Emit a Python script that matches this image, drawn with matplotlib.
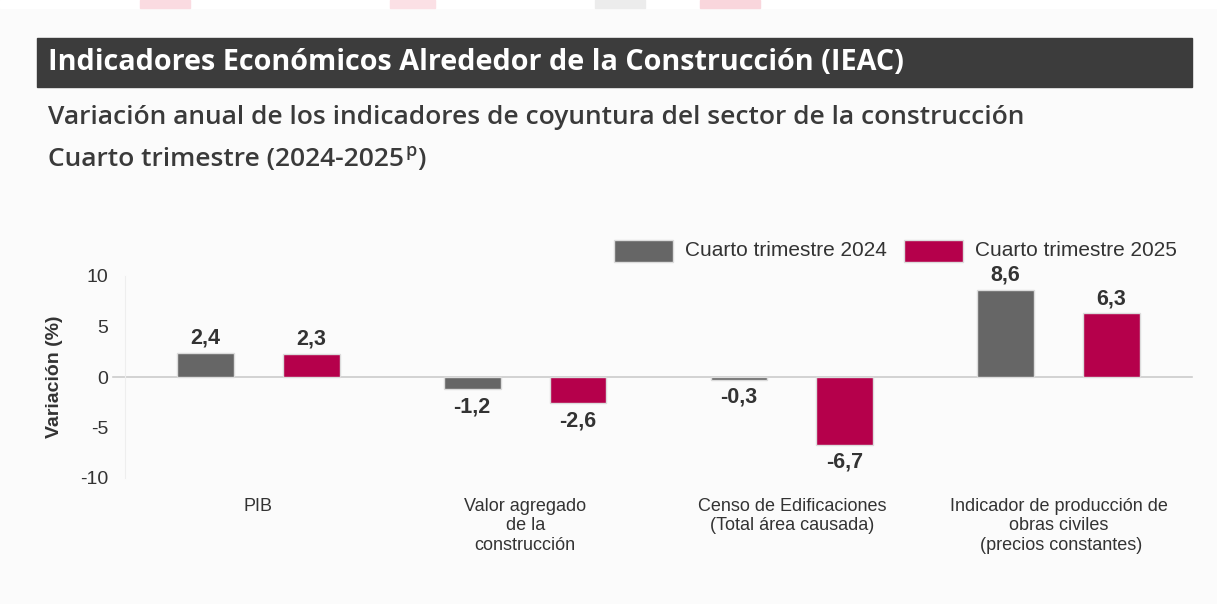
import matplotlib
matplotlib.use("Agg")
import matplotlib.pyplot as plt
from matplotlib.patches import Rectangle

W, H = 1217, 604

categorias = ["PIB", "Valor agregado\nde la\nconstrucción",
              "Censo de Edificaciones\n(Total área causada)",
              "Indicador de producción de\nobras civiles\n (precios constantes)"]
series = ["Cuarto trimestre 2024", "Cuarto trimestre 2025"]
valores_2024 = [2.4, -1.2, -0.3, 8.6]
valores_2025 = [2.3, -2.6, -6.7, 6.3]
yticks = [-10, -5, 0, 5, 10]

colores = ["#666666", "#b5004b"]
txt = "#333333"

fig = plt.figure(figsize=(W / 100, H / 100), dpi=100)
fig.patch.set_facecolor("#fbfbfb")

# franja blanca superior con restos de la imagen de cabecera
fig.patches.append(Rectangle((0, 1 - 8 / H), 1, 8 / H, transform=fig.transFigure,
                             color="white", zorder=0))
for x0, ww, c in [(140, 50, "#fadbe1"), (390, 45, "#fbe0e5"), (595, 50, "#ececec"),
                  (700, 60, "#f9d6dc")]:
    fig.patches.append(Rectangle((x0 / W, 1 - 8 / H), ww / W, 8 / H,
                                 transform=fig.transFigure, color=c, zorder=1))

# banda del titulo
fig.patches.append(Rectangle((37 / W, 1 - 87 / H), (1192 - 37) / W, 49 / H,
                             transform=fig.transFigure, color="#3c3c3c", zorder=1))
fig.text(48 / W, 1 - 63 / H, "Indicadores Económicos Alrededor de la Construcción (IEAC)",
         color="white", fontsize=20.7, fontweight="bold", family="Open Sans",
         va="center", ha="left")

fig.text(48 / W, 1 - 117 / H,
         "Variación anual de los indicadores de coyuntura del sector de la construcción",
         color="#3a3a3a", fontsize=19, fontweight="semibold", family="Open Sans",
         va="center", ha="left")
t1 = fig.text(48 / W, 1 - 160 / H, "Cuarto trimestre (2024-2025",
              color="#3a3a3a", fontsize=19, fontweight="semibold", family="Open Sans",
              va="center", ha="left")
r = fig.canvas.get_renderer()
bb = t1.get_window_extent(r)
t2 = fig.text(bb.x1 / W + 1 / W, 1 - 151 / H, "p", color="#3a3a3a", fontsize=13,
              fontweight="semibold", family="Open Sans", va="center", ha="left")
bb2 = t2.get_window_extent(r)
fig.text(bb2.x1 / W + 1 / W, 1 - 160 / H, ")", color="#3a3a3a", fontsize=19,
         fontweight="semibold", family="Open Sans", va="center", ha="left")

# ejes
ppu = 10.1
y0 = 377
ymin, ymax = -11, 11
top_px = y0 - ymax * ppu
bot_px = y0 - ymin * ppu
ax = fig.add_axes([125 / W, 1 - bot_px / H, (1192 - 125) / W, (bot_px - top_px) / H])
ax.set_facecolor("none")
ax.set_xlim(-0.5, 3.5)
ax.set_ylim(ymin, ymax)

x = range(len(categorias))
ancho = 0.213
desp = 0.1985
for i, (vals, nombre) in enumerate(zip([valores_2024, valores_2025], series)):
    pos = [xi + (i * 2 - 1) * desp for xi in x]
    barras = ax.bar(pos, vals, width=ancho, color=colores[i], edgecolor="#dcdcdc",
                    linewidth=1, zorder=3)
    for b, v in zip(barras, vals):
        etiqueta = f"{v:.1f}".replace(".", ",")
        if v >= 0:
            ax.annotate(etiqueta, (b.get_x() + b.get_width() / 2, v), xytext=(0, 3),
                        textcoords="offset points", ha="center", va="bottom",
                        fontsize=15.5, fontweight="bold", color=txt,
                        family="Liberation Sans")
        else:
            ax.annotate(etiqueta, (b.get_x() + b.get_width() / 2, v), xytext=(0, -5),
                        textcoords="offset points", ha="center", va="top",
                        fontsize=15.5, fontweight="bold", color=txt,
                        family="Liberation Sans")

ax.axhline(0, xmin=-12 / 1067, color="#cccccc", linewidth=1.2, zorder=2, clip_on=False)

for s in ["top", "right", "bottom"]:
    ax.spines[s].set_visible(False)
ax.spines["left"].set_color("#eeeeee")
ax.spines["left"].set_bounds(-10, 10)

ax.set_yticks(yticks)
ax.set_yticklabels([str(v) for v in yticks], family="Liberation Sans", fontsize=14,
                   color=txt)
ax.tick_params(axis="y", length=0, pad=12)
ax.set_xticks(list(x))
ax.set_xticklabels(categorias, family="Liberation Sans", fontsize=13, color=txt,
                   linespacing=1.2)
ax.tick_params(axis="x", length=0, pad=7)

fig.text(55 / W, 1 - 377 / H, "Variación (%)", rotation=90, ha="center", va="center",
         fontsize=14, fontweight="bold", color=txt, family="Liberation Sans")

# leyenda
for px, tx, nombre, c in zip([614, 904], [685, 975], series, colores):
    fig.patches.append(Rectangle((px / W, 1 - 262 / H), 59 / W, 22 / H,
                                 transform=fig.transFigure, facecolor=c,
                                 edgecolor="#dcdcdc", linewidth=1, zorder=2))
    fig.text(tx / W, 1 - 251 / H, nombre, ha="left", va="center", fontsize=15,
             color=txt, family="Liberation Sans")

fig.savefig("out.png", dpi=100, facecolor=fig.get_facecolor())
